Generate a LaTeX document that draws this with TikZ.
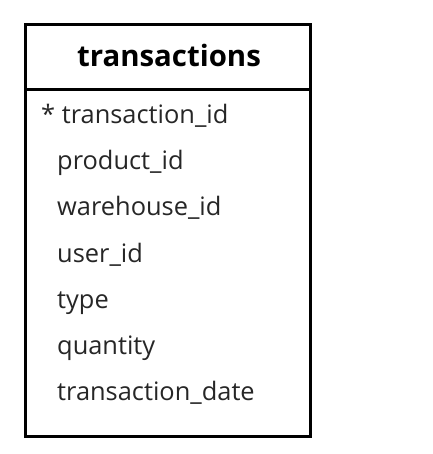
\documentclass[tikz,border=0pt]{standalone}
\usepackage{fontspec}
\setmainfont{Open Sans}
\begin{document}
\begin{tikzpicture}[x=1bp,y=-1bp,
  field/.style={anchor=base west,inner sep=0pt,font=\fontsize{25.5}{30}\selectfont,text=black!85},
  title/.style={anchor=base,inner sep=0pt,font=\fontsize{29.5}{34}\selectfont\bfseries}]
\useasboundingbox (0,0) rectangle (432,454);
\draw[line width=3bp] (25.5,25) rectangle (310,436.5);
\draw[line width=3bp] (25.5,89.5) -- (310,89.5);
\node[title] (t) at (169,67) {transactions};
\node[field] (f1) at (41,123.5) {* transaction\_id};
\node[field] (f2) at (57,169.5) {product\_id};
\node[field] (f3) at (57,215.5) {warehouse\_id};
\node[field] (f4) at (57,262) {user\_id};
\node[field] (f5) at (57,308.5) {type};
\node[field] (f6) at (57,354.5) {quantity};
\node[field] (f7) at (57,400.5) {transaction\_date};
\end{tikzpicture}
\end{document}
